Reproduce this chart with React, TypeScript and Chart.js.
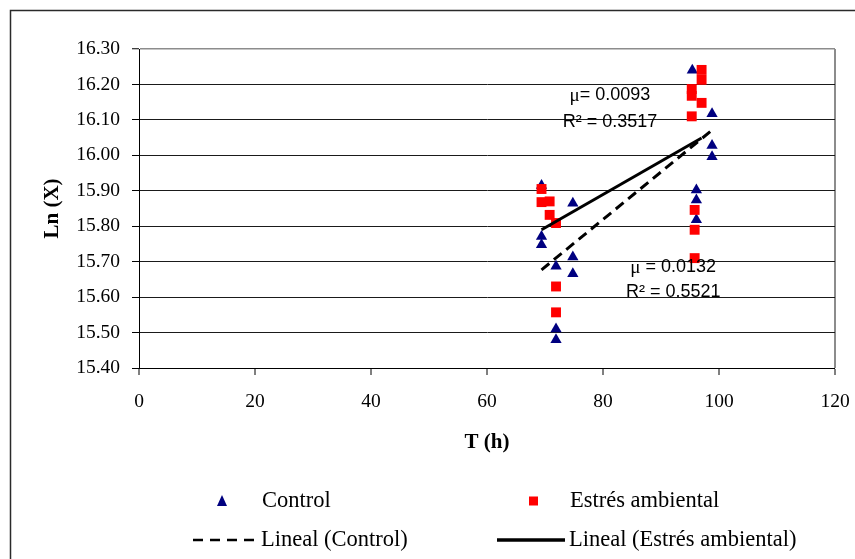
import React, { useEffect, useRef } from "react";
import { Chart, registerables } from "chart.js";

Chart.register(...registerables);

// ---- Data ----
const controlX = [69.4, 69.4, 69.4, 71.9, 71.9, 71.9, 74.8, 74.8, 74.8, 95.4, 96.1, 96.1, 96.1, 98.8, 98.8, 98.8];
const controlY = [15.915, 15.771, 15.748, 15.687, 15.51, 15.48, 15.865, 15.713, 15.666, 16.24, 15.902, 15.874, 15.818, 16.117, 16.028, 15.996];

const estresX = [69.4, 69.4, 70.8, 70.8, 71.9, 71.9, 71.9, 97.0, 97.0, 95.3, 95.3, 97.0, 95.3, 95.8, 95.8, 95.8];
const estresY = [15.905, 15.868, 15.87, 15.832, 15.809, 15.63, 15.557, 16.241, 16.213, 16.187, 16.168, 16.148, 16.11, 15.846, 15.79, 15.71];

// Trendline end points as drawn in the reference
const controlTrendX = [69.4, 98.8];
const controlTrendY = [15.677, 16.071];
const estresTrendX = [69.4, 97.0];
const estresTrendY = [15.79, 16.049];

const xTicks = [0, 20, 40, 60, 80, 100, 120];
const yTicks = [15.4, 15.5, 15.6, 15.7, 15.8, 15.9, 16.0, 16.1, 16.2, 16.3];

const seriesNames = ["Control", "Estrés ambiental", "Lineal (Control)", "Lineal (Estrés ambiental)"];
const muLabels = ["= 0.0093", " = 0.0132"];
const r2Labels = ["R² = 0.3517", "R² = 0.5521"];

const SERIF = "'Liberation Serif', 'Times New Roman', serif";
const SANS = "'Liberation Sans', Arial, sans-serif";

const toPts = (xs: number[], ys: number[]) => xs.map((x, i) => ({ x, y: ys[i] }));

const decorPlugin = {
  id: "decor",
  beforeDraw(chart: any) {
    const ctx = chart.ctx;
    ctx.save();
    ctx.fillStyle = "#ffffff";
    ctx.fillRect(0, 0, chart.width, chart.height);
    ctx.strokeStyle = "#2a2a2a";
    ctx.lineWidth = 1.5;
    ctx.beginPath();
    ctx.moveTo(10.5, chart.height + 2);
    ctx.lineTo(10.5, 10.5);
    ctx.lineTo(chart.width + 2, 10.5);
    ctx.stroke();
    ctx.restore();
  },
  afterDraw(chart: any) {
    const ctx = chart.ctx;
    const xs = chart.scales.x;
    const ys = chart.scales.y;
    ctx.save();
    // ---- annotations (equation labels) ----
    const ann = [
      { mu: muLabels[0], r2: r2Labels[0], x: 81.2, y1: 16.17, y2: 16.095 },
      { mu: muLabels[1], r2: r2Labels[1], x: 92.1, y1: 15.686, y2: 15.614 },
    ];
    ctx.fillStyle = "#000";
    ctx.textBaseline = "middle";
    for (const a of ann) {
      const cx = xs.getPixelForValue(a.x);
      ctx.font = `19px ${SERIF}`;
      const wMu = ctx.measureText("μ").width;
      ctx.font = `18px ${SANS}`;
      const wRest = ctx.measureText(a.mu).width;
      const sx = cx - (wMu + wRest) / 2;
      const py1 = ys.getPixelForValue(a.y1);
      ctx.textAlign = "left";
      ctx.font = `19px ${SERIF}`;
      ctx.fillText("μ", sx, py1 + 1);
      ctx.font = `18px ${SANS}`;
      ctx.fillText(a.mu, sx + wMu, py1);
      ctx.textAlign = "center";
      ctx.fillText(a.r2, cx, ys.getPixelForValue(a.y2));
    }

    // ---- legend ----
    const ds = chart.data.datasets;
    ctx.font = `22.5px ${SERIF}`;
    ctx.textAlign = "left";
    ctx.textBaseline = "middle";
    const row1 = 501, row2 = 540;
    ctx.fillStyle = ds[0].backgroundColor;
    ctx.beginPath();
    ctx.moveTo(222, row1 - 6);
    ctx.lineTo(227, row1 + 5);
    ctx.lineTo(217, row1 + 5);
    ctx.closePath();
    ctx.fill();
    ctx.fillStyle = "#000";
    ctx.fillText(seriesNames[0], 262, row1);
    ctx.fillStyle = ds[1].backgroundColor;
    ctx.fillRect(529, row1 - 4.5, 9, 9);
    ctx.fillStyle = "#000";
    ctx.fillText(seriesNames[1], 570, row1);
    ctx.strokeStyle = ds[2].borderColor;
    ctx.lineWidth = 2.5;
    ctx.setLineDash([10, 7]);
    ctx.beginPath();
    ctx.moveTo(193, row2);
    ctx.lineTo(258, row2);
    ctx.stroke();
    ctx.setLineDash([]);
    ctx.fillText(seriesNames[2], 261, row2);
    ctx.strokeStyle = ds[3].borderColor;
    ctx.lineWidth = 3.5;
    ctx.beginPath();
    ctx.moveTo(497, row2);
    ctx.lineTo(565, row2);
    ctx.stroke();
    ctx.fillText(seriesNames[3], 569, row2);
    ctx.restore();
  },
};

export default function App() {
  const ref = useRef<HTMLCanvasElement | null>(null);

  useEffect(() => {
    document.body.style.margin = "0";
    const canvas = ref.current;
    if (!canvas) return;
    const chart = new Chart(canvas, {
      type: "scatter",
      data: {
        datasets: [
          {
            label: seriesNames[0],
            data: toPts(controlX, controlY),
            pointStyle: "triangle",
            pointRadius: 6.5,
            backgroundColor: "#000080",
            borderColor: "#000080",
            borderWidth: 0,
            order: 2,
          },
          {
            label: seriesNames[1],
            data: toPts(estresX, estresY),
            pointStyle: "rect",
            pointRadius: 7,
            backgroundColor: "#ff0000",
            borderColor: "#ff0000",
            borderWidth: 0,
            order: 1,
          },
          {
            label: seriesNames[2],
            data: toPts(controlTrendX, controlTrendY),
            showLine: true,
            pointRadius: 0,
            borderColor: "#000000",
            borderWidth: 3,
            borderDash: [10, 6],
            order: 0,
          },
          {
            label: seriesNames[3],
            data: toPts(estresTrendX, estresTrendY),
            showLine: true,
            pointRadius: 0,
            borderColor: "#000000",
            borderWidth: 3,
            order: 0,
          },
        ],
      } as any,
      options: {
        responsive: false,
        animation: false,
        layout: { padding: { left: 0, top: 49, right: 20, bottom: 101 } },
        plugins: { legend: { display: false }, tooltip: { enabled: false } },
        scales: {
          x: {
            type: "linear",
            min: 0,
            max: 120,
            afterBuildTicks: (s: any) => {
              s.ticks = xTicks.map((v) => ({ value: v }));
            },
            afterFit: (s: any) => {
              s.height = 90;
              s.paddingLeft = 0;
              s.paddingRight = 0;
            },
            ticks: {
              font: { family: SERIF, size: 19.5 },
              color: "#000",
              padding: 15,
              maxRotation: 0,
              callback: (v: any) => String(v),
            },
            grid: {
              drawOnChartArea: true,
              color: (c: any) => (c.tick && c.tick.value === 120 ? "#8c8c8c" : "rgba(0,0,0,0)"),
              lineWidth: (c: any) => (c.tick && c.tick.value === 120 ? 2 : 0),
              tickLength: 7,
              tickColor: "#000",
              tickWidth: 1,
            },
            border: { color: "#000", width: 1 },
            title: {
              display: true,
              text: "T (h)",
              color: "#000",
              font: { family: SERIF, size: 21, weight: "bold" },
              padding: { top: 0, bottom: 2.5 },
            },
          },
          y: {
            type: "linear",
            min: 15.4,
            max: 16.3,
            afterBuildTicks: (s: any) => {
              s.ticks = yTicks.map((v) => ({ value: v }));
            },
            afterFit: (s: any) => {
              s.width = 139;
              s.paddingTop = 0;
              s.paddingBottom = 0;
            },
            ticks: {
              font: { family: SERIF, size: 19.5 },
              color: "#000",
              padding: 12,
              callback: (v: any) => Number(v).toFixed(2),
            },
            grid: {
              color: (c: any) => (c.tick && c.tick.value > 16.25 ? "#8c8c8c" : "#1a1a1a"),
              lineWidth: (c: any) => (c.tick && c.tick.value > 16.25 ? 1.5 : 1),
              tickLength: 7,
              tickColor: "#000",
              tickWidth: 1,
            },
            border: { color: "#000", width: 1 },
            title: {
              display: true,
              text: "Ln (X)",
              color: "#000",
              font: { family: SERIF, size: 21, weight: "bold" },
              padding: { top: 40, bottom: 0 },
            },
          },
        },
      } as any,
      plugins: [decorPlugin],
    });
    return () => chart.destroy();
  }, []);

  return (
    <div style={{ width: 855, height: 559 }}>
      <canvas ref={ref} width={855} height={559} style={{ display: "block", width: 855, height: 559 }} />
    </div>
  );
}
